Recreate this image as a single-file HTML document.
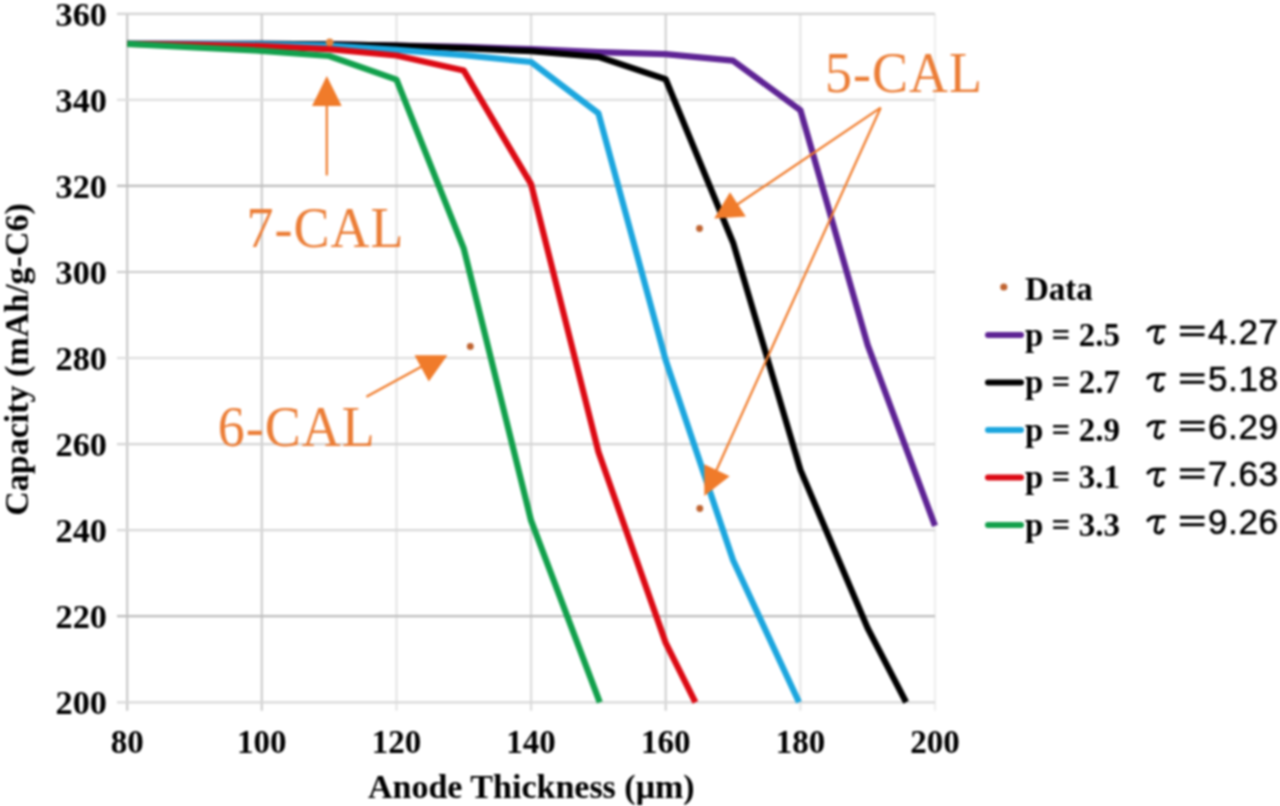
<!DOCTYPE html>
<html><head><meta charset="utf-8"><style>
html,body{margin:0;padding:0;background:#fff;}
body{width:1280px;height:806px;overflow:hidden;}
svg{display:block;filter:blur(0.8px);}
</style></head><body>
<svg width="1280" height="806" viewBox="0 0 1280 806">
<rect width="1280" height="806" fill="#fff"/>
<g stroke-width="2.2">
<line x1="127.2" y1="13.8" x2="127.2" y2="710.8" stroke="#c8c8c8"/>
<line x1="261.8" y1="13.8" x2="261.8" y2="710.8" stroke="#cdcdcd"/>
<line x1="396.5" y1="13.8" x2="396.5" y2="710.8" stroke="#e6e6e6"/>
<line x1="531.1" y1="13.8" x2="531.1" y2="710.8" stroke="#dcdcdc"/>
<line x1="665.7" y1="13.8" x2="665.7" y2="710.8" stroke="#d2d2d2"/>
<line x1="800.4" y1="13.8" x2="800.4" y2="710.8" stroke="#e6e6e6"/>
<line x1="935.0" y1="13.8" x2="935.0" y2="710.8" stroke="#efefef"/>
<line x1="117" y1="702.3" x2="935.0" y2="702.3" stroke="#d8d8d8"/>
<line x1="117" y1="616.2" x2="935.0" y2="616.2" stroke="#bdbdbd"/>
<line x1="117" y1="530.2" x2="935.0" y2="530.2" stroke="#d8d8d8"/>
<line x1="117" y1="444.1" x2="935.0" y2="444.1" stroke="#d4d4d4"/>
<line x1="117" y1="358.0" x2="935.0" y2="358.0" stroke="#dcdcdc"/>
<line x1="117" y1="272.0" x2="935.0" y2="272.0" stroke="#cacaca"/>
<line x1="117" y1="185.9" x2="935.0" y2="185.9" stroke="#bdbdbd"/>
<line x1="117" y1="99.9" x2="935.0" y2="99.9" stroke="#dedede"/>
<line x1="117" y1="13.8" x2="935.0" y2="13.8" stroke="#d2d2d2"/>
</g>
<g font-family="'Liberation Serif', serif" font-weight="bold" font-size="35" fill="#000">
<text x="107" y="714.3" text-anchor="end" font-size="34.3">200</text>
<text x="107" y="628.2" text-anchor="end" font-size="34.3">220</text>
<text x="107" y="542.2" text-anchor="end" font-size="34.3">240</text>
<text x="107" y="456.1" text-anchor="end" font-size="34.3">260</text>
<text x="107" y="370.0" text-anchor="end" font-size="34.3">280</text>
<text x="107" y="284.0" text-anchor="end" font-size="34.3">300</text>
<text x="107" y="197.9" text-anchor="end" font-size="34.3">320</text>
<text x="107" y="111.9" text-anchor="end" font-size="34.3">340</text>
<text x="107" y="25.8" text-anchor="end" font-size="34.3">360</text>
<text x="127.2" y="753.3" text-anchor="middle" font-size="33">80</text>
<text x="261.8" y="753.3" text-anchor="middle" font-size="33">100</text>
<text x="396.5" y="753.3" text-anchor="middle" font-size="33">120</text>
<text x="531.1" y="753.3" text-anchor="middle" font-size="33">140</text>
<text x="665.7" y="753.3" text-anchor="middle" font-size="33">160</text>
<text x="800.4" y="753.3" text-anchor="middle" font-size="33">180</text>
<text x="935.0" y="753.3" text-anchor="middle" font-size="33">200</text>
<text x="531.3" y="797.5" text-anchor="middle" font-size="34">Anode Thickness (μm)</text>
<text transform="translate(28.3,359.5) rotate(-90)" text-anchor="middle" font-size="34">Capacity (mAh/g-C6)</text>
</g>
<polyline fill="none" stroke="#5e2394" stroke-width="6.2" stroke-linejoin="round" stroke-linecap="butt" points="127.2,43.9 194.5,43.9 261.8,43.9 329.2,44.4 396.5,45.6 463.8,46.9 531.1,49.1 598.4,52.1 665.7,54.2 733.1,60.7 800.4,110.2 867.7,345.1 935.0,525.9"/>
<polyline fill="none" stroke="#000000" stroke-width="6.2" stroke-linejoin="round" stroke-linecap="butt" points="127.2,43.9 194.5,43.9 261.8,43.9 329.2,44.4 396.5,45.6 463.8,48.2 531.1,51.2 598.4,56.8 665.7,79.2 733.1,242.7 800.4,469.9 867.7,628.3 906.1,702.3"/>
<polyline fill="none" stroke="#1ca6de" stroke-width="6.2" stroke-linejoin="round" stroke-linecap="butt" points="127.2,43.9 194.5,43.9 261.8,44.4 329.2,45.6 396.5,49.9 463.8,55.1 531.1,62.0 598.4,113.2 665.7,360.2 733.1,560.3 799.0,702.3"/>
<polyline fill="none" stroke="#dc0a14" stroke-width="6.2" stroke-linejoin="round" stroke-linecap="butt" points="127.2,43.9 194.5,44.8 261.8,46.1 329.2,49.1 396.5,55.5 463.8,70.6 531.1,184.2 598.4,451.8 665.7,642.9 695.4,702.3"/>
<polyline fill="none" stroke="#12a04c" stroke-width="6.2" stroke-linejoin="round" stroke-linecap="butt" points="127.2,43.9 194.5,47.4 261.8,50.8 329.2,56.0 396.5,79.6 463.8,248.7 531.1,520.7 599.8,702.3"/>
<g fill="#bf6330">
<circle cx="329.7" cy="42.4" r="3.8" fill="#e3843c"/>
<circle cx="699.5" cy="228.5" r="3.4"/>
<circle cx="699.8" cy="508.5" r="3.4"/>
<circle cx="470.3" cy="346.4" r="3.4"/>
</g>
<g stroke="#f07b2a" stroke-width="2.2" fill="none">
<line x1="326.8" y1="175.4" x2="326.8" y2="100"/>
<line x1="366.4" y1="396.7" x2="430" y2="362"/>
<line x1="880.7" y1="107.7" x2="735" y2="206"/>
<line x1="880.7" y1="107.7" x2="712" y2="480"/>
</g>
<g fill="#f07b2a">
<polygon points="326.8,76.1 341.7,105.9 312,105.9"/>
<polygon points="447.4,355.2 414.5,355.2 428.8,381.4"/>
<polygon points="714.2,218.4 730,192.3 745.8,216.5"/>
<polygon points="704.3,496.1 704.3,464.3 729.6,476.2"/>
</g>
<g font-family="'Liberation Serif', serif" font-size="54" letter-spacing="1.0" fill="#eb7d36">
<text transform="translate(246.5,246.5) scale(1,1.05)">7-CAL</text>
<text transform="translate(217.8,446.3) scale(1,1.05)">6-CAL</text>
<text transform="translate(825,92.3) scale(1,1.05)">5-CAL</text>
</g>
<g>
<circle cx="1003.8" cy="287" r="3.6" fill="#bf6330"/>
<g stroke-width="6" stroke-linecap="round">
<line x1="988" y1="335" x2="1021" y2="335" stroke="#5e2394"/>
<line x1="988" y1="382.5" x2="1021" y2="382.5" stroke="#000"/>
<line x1="988" y1="430" x2="1021" y2="430" stroke="#1ca6de"/>
<line x1="988" y1="477.5" x2="1021" y2="477.5" stroke="#dc0a14"/>
<line x1="988" y1="525" x2="1021" y2="525" stroke="#12a04c"/>
</g>
<g font-family="'Liberation Serif', serif" font-weight="bold" font-size="33" fill="#000">
<text x="1025" y="299.5">Data</text>
<text x="1025" y="345.5">p = 2.5</text>
<text x="1025" y="393">p = 2.7</text>
<text x="1025" y="440.5">p = 2.9</text>
<text x="1025" y="488">p = 3.1</text>
<text x="1025" y="535.5">p = 3.3</text>
</g>
<g transform="translate(0,0.0)"><path d="M1148,330.5 Q1150.5,326.8 1155,326.8 L1164.5,326.8 M1158,327 L1155.5,338 Q1154.5,343 1158.5,343 Q1161.5,343 1162.8,340" fill="none" stroke="#000" stroke-width="3.2" stroke-linecap="round"/><rect x="1180" y="325.8" width="24.5" height="3" fill="#000"/><rect x="1180" y="333.2" width="24.5" height="3" fill="#000"/></g>
<g transform="translate(0,47.5)"><path d="M1148,330.5 Q1150.5,326.8 1155,326.8 L1164.5,326.8 M1158,327 L1155.5,338 Q1154.5,343 1158.5,343 Q1161.5,343 1162.8,340" fill="none" stroke="#000" stroke-width="3.2" stroke-linecap="round"/><rect x="1180" y="325.8" width="24.5" height="3" fill="#000"/><rect x="1180" y="333.2" width="24.5" height="3" fill="#000"/></g>
<g transform="translate(0,95.0)"><path d="M1148,330.5 Q1150.5,326.8 1155,326.8 L1164.5,326.8 M1158,327 L1155.5,338 Q1154.5,343 1158.5,343 Q1161.5,343 1162.8,340" fill="none" stroke="#000" stroke-width="3.2" stroke-linecap="round"/><rect x="1180" y="325.8" width="24.5" height="3" fill="#000"/><rect x="1180" y="333.2" width="24.5" height="3" fill="#000"/></g>
<g transform="translate(0,142.5)"><path d="M1148,330.5 Q1150.5,326.8 1155,326.8 L1164.5,326.8 M1158,327 L1155.5,338 Q1154.5,343 1158.5,343 Q1161.5,343 1162.8,340" fill="none" stroke="#000" stroke-width="3.2" stroke-linecap="round"/><rect x="1180" y="325.8" width="24.5" height="3" fill="#000"/><rect x="1180" y="333.2" width="24.5" height="3" fill="#000"/></g>
<g transform="translate(0,190.0)"><path d="M1148,330.5 Q1150.5,326.8 1155,326.8 L1164.5,326.8 M1158,327 L1155.5,338 Q1154.5,343 1158.5,343 Q1161.5,343 1162.8,340" fill="none" stroke="#000" stroke-width="3.2" stroke-linecap="round"/><rect x="1180" y="325.8" width="24.5" height="3" fill="#000"/><rect x="1180" y="333.2" width="24.5" height="3" fill="#000"/></g>
<g font-family="'Liberation Sans', sans-serif" font-size="35" letter-spacing="0.6" fill="#000" stroke="#000" stroke-width="0.5">
<text x="1208" y="343.5">4.27</text>
<text x="1208" y="391">5.18</text>
<text x="1208" y="438.5">6.29</text>
<text x="1208" y="486">7.63</text>
<text x="1208" y="533.5">9.26</text>
</g>
</g>
</svg>
</body></html>
